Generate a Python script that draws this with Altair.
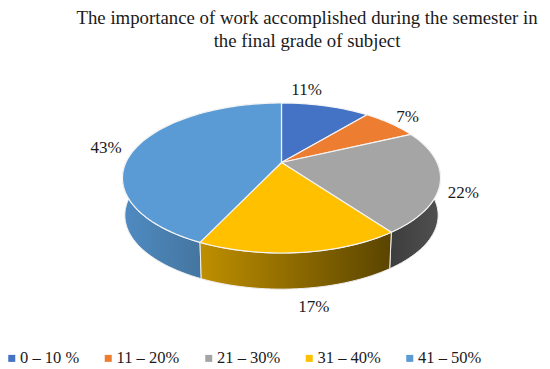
import numpy as np
import pandas as pd
import altair as alt

# ---- chart values ----
categories = ["0 – 10 %", "11 – 20%", "21 – 30%", "31 – 40%", "41 – 50%"]
values = [11, 7, 22, 17, 43]
labels = ["11%", "7%", "22%", "17%", "43%"]
colors = ["#4472C4", "#ED7D31", "#A5A5A5", "#FFC000", "#5B9BD5"]
title_lines = ["The importance of work accomplished during the semester in",
               "the final grade of subject"]

# ---- projection of the tilted pie ----
CX, CY, A, B, K = 281.5, 162.5, 155.6, 71.8, 0.2067
DEPTH, SHRINK = 37.5, 0.985
X0, X1, Y0, Y1 = 8, 542, 58, 366


def proj(theta, r=1.0, drop=0.0, s=1.0):
    u, v = r * np.sin(theta), r * np.cos(theta)
    w = 1.0 / (1.0 + K * v)
    return CX + s * A * u * w, CY + drop + s * B * v * w * -1


edges = np.cumsum([0] + values) / sum(values) * 2 * np.pi
top_rows, side_rows = [], []
for k, cat in enumerate(categories):
    th = np.linspace(edges[k], edges[k + 1], max(values[k] * 2, 8))
    xs, ys = proj(th)
    px = [CX] + list(xs) + [CX]
    py = [CY] + list(ys) + [CY]
    top_rows += [dict(cat=cat, i=i, x=a, y=b) for i, (a, b) in enumerate(zip(px, py))]
    bx, by = proj(th[::-1], drop=DEPTH, s=SHRINK)
    sx = list(xs) + list(bx) + [xs[0]]
    sy = list(ys) + list(by) + [ys[0]]
    side_rows += [dict(cat=cat, i=i, x=a, y=b) for i, (a, b) in enumerate(zip(sx, sy))]
top_df = pd.DataFrame(top_rows)
side_df = pd.DataFrame(side_rows)

xs_enc = alt.X("x:Q", scale=alt.Scale(domain=[X0, X1]), axis=None)
ys_enc = alt.Y("y:Q", scale=alt.Scale(domain=[Y1, Y0]), axis=None)


def grad(c0, c1, stop=1.0):
    stops = [alt.GradientStop(offset=0, color=c0), alt.GradientStop(offset=stop, color=c1)]
    if stop < 1:
        stops.append(alt.GradientStop(offset=1, color=c1))
    return alt.LinearGradient(gradient="linear", x1=0, x2=1, y1=0, y2=0, stops=stops)


side_fill = {
    "21 – 30%": grad("#3D3D3D", "#505050"),
    "31 – 40%": grad("#BF8F00", "#5A4400"),
    "41 – 50%": grad("#4F8BC2", "#44759F", 0.5),
}

layers = []
for cat in ["21 – 30%", "41 – 50%", "31 – 40%"]:
    layers.append(
        alt.Chart(side_df[side_df.cat == cat])
        .mark_line(fill=side_fill[cat], stroke="#EFEFEF", strokeWidth=1, strokeJoin="round")
        .encode(x=xs_enc, y=ys_enc, order="i:Q")
    )
for k, cat in enumerate(categories):
    layers.append(
        alt.Chart(top_df[top_df.cat == cat])
        .mark_line(fill=colors[k], stroke="#F4F4F4", strokeWidth=1.2, strokeJoin="round")
        .encode(x=xs_enc, y=ys_enc, order="i:Q")
    )

# data labels, anchored on the rim at each slice's middle angle
nudges = [(-19, -16), (17, -6), (23, 12), (14, 54), (-30, 0)]
for k, lab in enumerate(labels):
    mid = (edges[k] + edges[k + 1]) / 2
    lx, ly = proj(mid)
    layers.append(
        alt.Chart(pd.DataFrame({"x": [lx], "y": [ly], "t": [lab]}))
        .mark_text(font="Liberation Serif", fontSize=17, color="#1a1a1a",
                   dx=nudges[k][0], dy=nudges[k][1], align="center", baseline="middle")
        .encode(x=xs_enc, y=ys_enc, text="t:N")
    )

# legend carrier
legend_df = pd.DataFrame({"cat": categories, "x": [X0] * 5, "y": [Y0] * 5})
layers.append(
    alt.Chart(legend_df)
    .mark_square(size=0, opacity=0)
    .encode(
        x=xs_enc, y=ys_enc,
        color=alt.Color(
            "cat:N",
            scale=alt.Scale(domain=categories, range=colors),
            sort=categories,
            legend=alt.Legend(
                title=None, orient="none", direction="horizontal", columns=5,
                legendX=-4.5, legendY=292, symbolType="square", symbolSize=49,
                symbolOpacity=1, symbolStrokeWidth=0,
                labelFont="Liberation Serif", labelFontSize=16.5, labelColor="#1a1a1a",
                columnPadding=20.5, labelOffset=0,
                labelLimit=200,
            ),
        ),
    )
)

chart = (
    alt.layer(*layers)
    .properties(
        width=X1 - X0, height=Y1 - Y0, background="white",
        autosize=alt.AutoSizeParams(type="none"),
        padding={"left": 0, "top": 50, "right": 0, "bottom": 0},
        title=alt.TitleParams(
            text=title_lines, font="Liberation Serif", fontSize=18.8, fontWeight="normal",
            color="#1a1a1a", anchor="middle", dx=32, lineHeight=23, offset=7,
        ),
    )
    .configure_view(stroke=None)
)
chart.save("out.html", embed_options={"renderer": "svg", "actions": False})
